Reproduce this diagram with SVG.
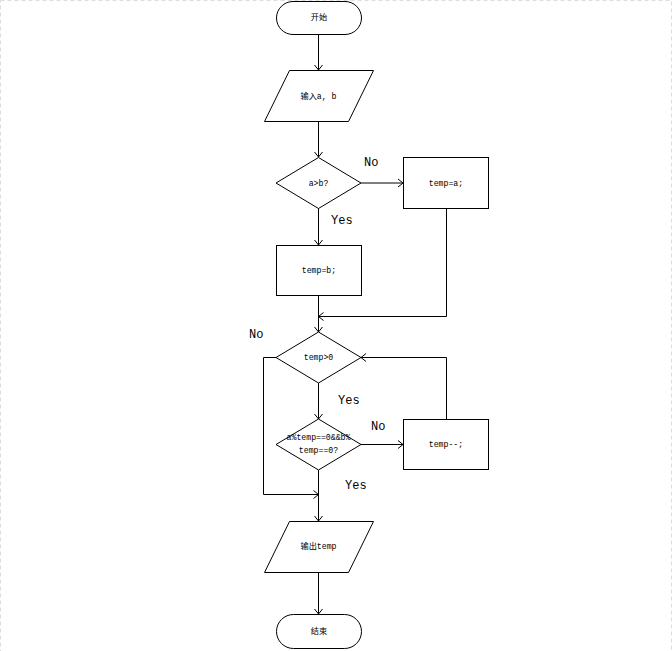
<svg xmlns="http://www.w3.org/2000/svg" width="672" height="651" viewBox="0 0 672 651">
<style>
.n{fill:#fff;stroke:#000;stroke-width:1}
.t{font-family:"Liberation Mono","Noto Sans CJK SC",monospace;font-size:8.2px;fill:#000;text-anchor:middle;dominant-baseline:central}
.l{font-family:"Liberation Mono","Noto Sans CJK SC",monospace;font-size:12px;fill:#000}
.c{fill:none;stroke:#000;stroke-width:1}
</style>
<defs>
<marker id="a" markerWidth="10" markerHeight="10" refX="8" refY="5" orient="auto" markerUnits="userSpaceOnUse">
<polyline points="3,1 8,5 3,9" fill="none" stroke="#000" stroke-width="1"/>
</marker>
</defs>
<rect x="0.5" y="0.5" width="671" height="660" fill="#fff" stroke="#ddd" stroke-dasharray="4,3"/>
<g id="connectors">
<line class="c" x1="318.5" y1="34" x2="318.5" y2="70" marker-end="url(#a)"/>
<line class="c" x1="318.5" y1="121" x2="318.5" y2="157" marker-end="url(#a)"/>
<line class="c" x1="361" y1="183" x2="403" y2="183" marker-end="url(#a)"/>
<line class="c" x1="318.5" y1="208" x2="318.5" y2="245" marker-end="url(#a)"/>
<line class="c" x1="318.5" y1="295" x2="318.5" y2="332" marker-end="url(#a)"/>
<polyline class="c" points="446.5,208 446.5,316.5 318.5,316.5" marker-end="url(#a)"/>
<polyline class="c" points="446.5,419 446.5,357.5 361,357.5" marker-end="url(#a)"/>
<polyline class="c" points="276,357.5 263.5,357.5 263.5,494.5 318.5,494.5" marker-end="url(#a)"/>
<line class="c" x1="318.5" y1="383" x2="318.5" y2="419" marker-end="url(#a)"/>
<line class="c" x1="361" y1="444.5" x2="403" y2="444.5" marker-end="url(#a)"/>
<line class="c" x1="318.5" y1="470" x2="318.5" y2="521" marker-end="url(#a)"/>
<line class="c" x1="318.5" y1="572" x2="318.5" y2="614" marker-end="url(#a)"/>
<text class="l" x="364" y="166">No</text>
<text class="l" x="331" y="224">Yes</text>
<text class="l" x="249" y="338">No</text>
<text class="l" x="338" y="404">Yes</text>
<text class="l" x="371" y="430">No</text>
<text class="l" x="345" y="489">Yes</text>
</g>
<g id="start"><rect class="n" x="276.5" y="1.5" width="85" height="33" rx="16.5"/><text class="t" x="319" y="17.5">开始</text></g>
<g id="input"><polygon class="n" points="289.5,70.5 373.5,70.5 348.5,121.5 264.5,121.5"/><text class="t" x="318.5" y="96">输入a, b</text></g>
<g id="cond1"><polygon class="n" points="318.5,157.5 361,183 318.5,208.5 276,183"/><text class="t" x="318.5" y="183">a&gt;b?</text></g>
<g id="tempA"><rect class="n" x="403.5" y="157.5" width="85" height="51"/><text class="t" x="446" y="183">temp=a;</text></g>
<g id="tempB"><rect class="n" x="276.5" y="245.5" width="85" height="50"/><text class="t" x="319" y="270.5">temp=b;</text></g>
<g id="cond2"><polygon class="n" points="318.5,332 361,357.5 318.5,383 276,357.5"/><text class="t" x="318.5" y="357">temp&gt;0</text></g>
<g id="cond3"><polygon class="n" points="318.5,419 361,444.5 318.5,470 276,444.5"/><text class="t" x="318.5" y="437.5">a%temp==0&amp;&amp;b%</text><text class="t" x="318.5" y="450.5">temp==0?</text></g>
<g id="dec"><rect class="n" x="403.5" y="419.5" width="85" height="50"/><text class="t" x="446" y="444.5">temp--;</text></g>
<g id="output"><polygon class="n" points="289.5,521.5 373.5,521.5 348.5,572.5 264.5,572.5"/><text class="t" x="318.5" y="546.5">输出temp</text></g>
<g id="end"><rect class="n" x="276.5" y="614.5" width="85" height="34" rx="17"/><text class="t" x="319" y="631.5">结束</text></g>
</svg>
